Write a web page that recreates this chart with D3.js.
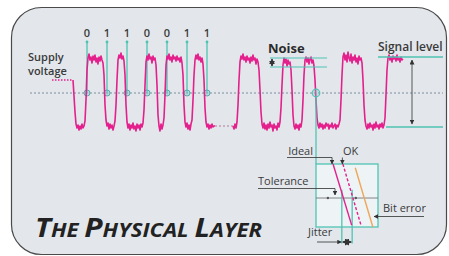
<!DOCTYPE html>
<html>
<head>
<meta charset="utf-8">
<script src="https://cdn.jsdelivr.net/npm/d3@7"></script>
<style>
  body { margin: 0; background: #fff; }
  svg text { font-family: "Open Sans", "Noto Sans", sans-serif; }
</style>
</head>
<body>
<svg id="chart"></svg>
<script>
// bit pattern written above the trace, and the times it is sampled at (ns)
var bits = ["0", "1", "1", "0", "0", "1", "1"];
var bitTimes = [10, 20, 30, 40, 50, 60, 70];

// trace, one sample every 0.5 ns, values in mV
var sampleStep = 0.5;
var trainAStart = 3;
var trainA = [2350, 1550, 750, 150, -50, 100, -150, 50, -100, 150, -50, 50, 300, 1350, 2850,
  3450, 3650, 3350, 3500, 3200, 3550, 3350, 3600, 3250, 3450, 3150, 3500, 3300, 3550, 3350, 3200,
  2600, 1100, 350, 50, 200, -100, 150, -50, 100, -150, 50, 300, 1100, 2350,
  3350, 3600, 3450, 3700, 3400, 3550, 3300, 2600, 1100,
  250, -50, 150, -150, 100, -50, 200, -100, 50, -200, 150, -50, 100, -150, 150, 0, 200, 850, 2100,
  3250, 3550, 3350, 3650, 3400, 3500, 3200, 3550, 3350, 3450, 3100, 2100, 600,
  50, -200, 150, -100, 100, 450, 1600,
  3100, 3550, 3400, 3650, 3350, 3500, 3250, 3600, 3400, 3500, 3300, 3550, 3350, 3450, 3250, 3500, 3200, 2600, 1100,
  250, 0, 200, -100, 100, -150, 150, 350, 1350, 2600,
  3350, 3600, 3400, 3650, 3350, 3500, 3250, 3450, 3150, 2350, 950,
  250, 0, 150, -100, 100, -50, 150, 0, 50, 50];
var trainBStart = 83;
var trainB = [50, -100, 150, -50, 250, 1100, 2350,
  3250, 3550, 3400, 3650, 3350, 3500, 3250, 3550, 3350, 3450, 3200, 3500, 3300, 3600, 3350, 3450, 3150, 3400, 3250, 2850, 1850, 750,
  150, -50, 200, -100, 100, -150, 150, -50, 250, 0, 100, -200, 150, -50, 50, -150, 200, 0, 250, 950, 2100,
  3100, 3450, 3200, 3400, 3050, 3350, 3150, 3250, 2850, 1850, 600,
  50, -100, 150, -50, 100, -150, 150, 0, 350, 1350, 2600,
  3350, 3500, 3250, 3450, 3150, 3400, 3500, 3200, 3350, 3050, 2350, 1350, 450,
  100, -50, 200, 0, 150, -100, 100, -50, 200, 50, 150, -100, 100, 0, 200, -50, 50, 150, -100, 100, 0, 150, 350, 1350, 2600,
  3500, 3700, 3350, 3600, 3250, 3750, 3450, 3300, 3650, 3200, 3500, 3350, 3600, 3250, 3450, 3150, 3550, 3350, 3450, 3200, 2350, 1100,
  350, 50, -100, 150, -50, 200, 0, 100, -150, 150, -50, 250, 0, 100, -100, 150, 0, 200, -50, 100, 450, 1600, 2850,
  3450, 3600, 3350, 3500, 3250, 3550, 3400, 3500, 3300, 3600, 3350, 3450, 3250, 3500, 3350, 3400];

var supplyLevel = 2350;          // level before the first edge (mV)
var supplySpan = [-7.5, 3];
var gapSpan = [74, 83];          // omitted part of the trace
var gapLevel = 50;
var threshold = 1700;            // decision threshold (mV)
var thresholdSpan = [-18.5, 188];
var sampleTime = 124.5;          // the edge blown up in the inset
var noiseBand = [3000, 3450];
var noiseSpan = [101.5, 130];
var signalLevels = [3500, 0];
var signalSpans = [[155.5, 188], [159.5, 188]];

// inset: edge positions in ns relative to the sampling window, level 0..1
var edgeNames = ["Ideal", "OK", "Bit error"];
var edgeTop = [[3.3, 1], [5.2, 1], [7.6, 0.94]];
var edgeBottom = [[6.9, 0.03], [8.7, 0.03], [11, 0]];
var jitterWindow = [5.0, 7.0];
var toleranceWindow = [2.3, 7.7];
var toleranceLevel = 0.46;

var W = 449, H = 256;
var pink = "#e3208c", teal = "#4fc3b3", ink = "#3a3a3a";

var svg = d3.select("#chart").attr("width", W).attr("height", H);

var defs = svg.append("defs");
function marker(id, fill) {
    defs.append("marker")
        .attr("id", id)
        .attr("viewBox", "0 0 10 10")
        .attr("refX", 9).attr("refY", 5)
        .attr("markerWidth", 5).attr("markerHeight", 5)
        .attr("orient", "auto-start-reverse")
        .append("path")
        .attr("d", "M0,0L10,5L0,10z")
        .attr("fill", fill);
}
marker("arr", "#333");

// frame
svg.append("rect")
    .attr("x", 11.5).attr("y", 7.5)
    .attr("width", 435).attr("height", 247)
    .attr("rx", 30).attr("ry", 30)
    .attr("fill", "#e3e7ec")
    .attr("stroke", "#4a4a4a")
    .attr("stroke-width", 1.2);

var x = d3.scaleLinear().domain([0, 170]).range([67, 407]);
var y = d3.scaleLinear().domain([0, 3500]).range([127, 57]);

var line = d3.line()
    .x(function (d) { return x(d[0]); })
    .y(function (d) { return y(d[1]); });

function toPoints(start, values) {
    return values.map(function (v, i) { return [start + i * sampleStep, v]; });
}

// threshold
svg.append("line")
    .attr("x1", x(thresholdSpan[0])).attr("x2", x(thresholdSpan[1]))
    .attr("y1", y(threshold)).attr("y2", y(threshold))
    .attr("stroke", "#7d8e9c")
    .attr("stroke-width", 1)
    .attr("stroke-dasharray", "2,2");

// bit markers
var bitG = svg.append("g");
bitG.selectAll(".bitline")
    .data(bitTimes)
    .enter().append("line")
    .attr("x1", function (d) { return x(d); })
    .attr("x2", function (d) { return x(d); })
    .attr("y1", 41)
    .attr("y2", y(threshold))
    .attr("stroke", teal)
    .attr("stroke-width", 1.3);
bitG.selectAll(".bittop")
    .data(bitTimes)
    .enter().append("circle")
    .attr("cx", function (d) { return x(d); })
    .attr("cy", 42)
    .attr("r", 1.4)
    .attr("fill", teal);
bitG.selectAll("text")
    .data(bits)
    .enter().append("text")
    .attr("x", function (d, i) { return x(bitTimes[i]); })
    .attr("y", 37)
    .attr("text-anchor", "middle")
    .attr("font-size", "11px")
    .attr("font-weight", 600)
    .attr("fill", ink)
    .text(function (d) { return d; });

// dotted bits of the trace
svg.append("path")
    .attr("d", line([[supplySpan[0], supplyLevel], [supplySpan[1], supplyLevel]]))
    .attr("stroke", pink).attr("stroke-width", 1.3)
    .attr("stroke-dasharray", "1.5,1.5").attr("fill", "none");
svg.append("path")
    .attr("d", line([[gapSpan[0], gapLevel], [gapSpan[1], gapLevel]]))
    .attr("stroke", "#b07a9c").attr("stroke-width", 1.2)
    .attr("stroke-dasharray", "2,2").attr("fill", "none");

// trace
[toPoints(trainAStart, trainA), toPoints(trainBStart, trainB)].forEach(function (pts) {
    svg.append("path")
        .attr("d", line(pts))
        .attr("fill", "none")
        .attr("stroke", pink)
        .attr("stroke-width", 1.6)
        .attr("stroke-linejoin", "round");
});

// sampling circles on the threshold
bitG.selectAll(".samp")
    .data(bitTimes)
    .enter().append("circle")
    .attr("cx", function (d) { return x(d); })
    .attr("cy", y(threshold))
    .attr("r", 3)
    .attr("fill", "rgba(120,200,195,0.45)")
    .attr("stroke", "#5aa9b0")
    .attr("stroke-width", 1);

// noise band
svg.selectAll(".noise")
    .data(noiseBand)
    .enter().append("line")
    .attr("x1", x(noiseSpan[0])).attr("x2", x(noiseSpan[1]))
    .attr("y1", function (d) { return y(d); })
    .attr("y2", function (d) { return y(d); })
    .attr("stroke", teal).attr("stroke-width", 1.2);
svg.append("line")
    .attr("x1", x(noiseSpan[0]) + 2).attr("x2", x(noiseSpan[0]) + 2)
    .attr("y1", y(noiseBand[1]) + 1).attr("y2", y(noiseBand[0]) - 1)
    .attr("stroke", "#222").attr("stroke-width", 1.2)
    .attr("marker-start", "url(#arr)").attr("marker-end", "url(#arr)");
svg.append("text")
    .attr("x", 268).attr("y", 53)
    .attr("font-size", "13px").attr("font-weight", 700)
    .attr("fill", "#2a2a2a")
    .text("Noise");

// signal level
svg.selectAll(".lvl")
    .data(signalLevels)
    .enter().append("line")
    .attr("x1", function (d, i) { return x(signalSpans[i][0]); })
    .attr("x2", function (d, i) { return x(signalSpans[i][1]); })
    .attr("y1", function (d) { return y(d); })
    .attr("y2", function (d) { return y(d); })
    .attr("stroke", teal).attr("stroke-width", 1.3);
svg.append("line")
    .attr("x1", x(172.5)).attr("x2", x(172.5))
    .attr("y1", y(signalLevels[0]) + 3).attr("y2", y(signalLevels[1]) - 3)
    .attr("stroke", "#555").attr("stroke-width", 1)
    .attr("marker-start", "url(#arr)").attr("marker-end", "url(#arr)");
svg.append("text")
    .attr("x", 378).attr("y", 51)
    .attr("font-size", "12px").attr("font-weight", 600)
    .attr("fill", ink)
    .text("Signal level");

// supply voltage label
svg.append("text")
    .attr("x", 28).attr("y", 61)
    .attr("font-size", "11px").attr("font-weight", 600).attr("fill", ink)
    .text("Supply");
svg.append("text")
    .attr("x", 28).attr("y", 75)
    .attr("font-size", "11px").attr("font-weight", 600).attr("fill", ink)
    .text("voltage");

// sample point and inset
var ix = d3.scaleLinear().domain([0, 12]).range([x(sampleTime), 378]);
var iy = d3.scaleLinear().domain([0, 1]).range([227, 164]);

svg.append("circle")
    .attr("cx", x(sampleTime)).attr("cy", y(threshold))
    .attr("r", 3.8)
    .attr("fill", "rgba(120,200,195,0.35)")
    .attr("stroke", teal).attr("stroke-width", 1.2);
svg.append("line")
    .attr("x1", x(sampleTime)).attr("x2", x(sampleTime))
    .attr("y1", y(threshold) + 4).attr("y2", iy(1))
    .attr("stroke", teal).attr("stroke-width", 1.3);

svg.append("rect")
    .attr("x", ix(0)).attr("y", iy(1))
    .attr("width", ix(12) - ix(0)).attr("height", iy(0) - iy(1))
    .attr("fill", "#eef3f5")
    .attr("stroke", teal).attr("stroke-width", 1.3);

// tolerance line
svg.append("line")
    .attr("x1", ix(0)).attr("x2", ix(12))
    .attr("y1", iy(toleranceLevel)).attr("y2", iy(toleranceLevel))
    .attr("stroke", "#6a6a6a").attr("stroke-width", 0.8);
svg.selectAll(".tol")
    .data(toleranceWindow)
    .enter().append("circle")
    .attr("cx", function (d) { return ix(d); })
    .attr("cy", iy(toleranceLevel))
    .attr("r", 1.2).attr("fill", "#555");

// jitter window
svg.selectAll(".jit")
    .data(jitterWindow)
    .enter().append("line")
    .attr("x1", function (d) { return ix(d); })
    .attr("x2", function (d) { return ix(d); })
    .attr("y1", iy(0.59)).attr("y2", iy(-0.26))
    .attr("stroke", teal).attr("stroke-width", 1.3);

// edges
var edgeStyle = [
    {stroke: pink, dash: null},
    {stroke: pink, dash: "3,2"},
    {stroke: "#f0a65a", dash: null}
];
edgeNames.forEach(function (name, i) {
    svg.append("line")
        .attr("x1", ix(edgeTop[i][0])).attr("y1", iy(edgeTop[i][1]))
        .attr("x2", ix(edgeBottom[i][0])).attr("y2", iy(edgeBottom[i][1]))
        .attr("stroke", edgeStyle[i].stroke)
        .attr("stroke-width", 1.4)
        .attr("stroke-dasharray", edgeStyle[i].dash);
});

// inset labels with leaders
function label(txt, tx, ty, anchor) {
    svg.append("text")
        .attr("x", tx).attr("y", ty)
        .attr("text-anchor", anchor || "start")
        .attr("font-size", "11px").attr("font-weight", 500)
        .attr("fill", ink)
        .text(txt);
}
function leader(pts, arrow) {
    svg.append("path")
        .attr("d", d3.line()(pts))
        .attr("fill", "none")
        .attr("stroke", "#444").attr("stroke-width", 0.9)
        .attr("marker-end", arrow ? "url(#arr)" : null);
}

label("Ideal", 313, 155, "end");
leader([[287, 157.5], [ix(edgeTop[0][0]) - 1, 157.5], [ix(edgeTop[0][0]) - 1, 164]], true);
label("OK", 343, 155);
leader([[ix(edgeTop[1][0]) - 0.5, 157.5], [ix(edgeTop[1][0]) - 0.5, 164]], true);
label("Tolerance", 258, 185);
leader([[258, 188.5], [335, 188.5], [335, 195]], true);
label("Bit error", 383, 212);
leader([[424, 216.5], [374, 216.5]], true);
label("Jitter", 308, 236);
leader([[317, 242], [ix(jitterWindow[0]) - 0.5, 242]], true);
svg.append("line")
    .attr("x1", ix(jitterWindow[0]) + 1).attr("x2", ix(jitterWindow[1]) - 1)
    .attr("y1", 242).attr("y2", 242)
    .attr("stroke", "#222").attr("stroke-width", 1.4)
    .attr("marker-start", "url(#arr)").attr("marker-end", "url(#arr)");

// title in small caps
var title = svg.append("text")
    .attr("x", 35).attr("y", 237)
    .attr("font-style", "italic")
    .attr("font-weight", 700)
    .attr("fill", "#222")
    .attr("textLength", 227)
    .attr("lengthAdjust", "spacingAndGlyphs");
[["T", 27], ["HE ", 20], ["P", 27], ["HYSICAL ", 20], ["L", 27], ["AYER", 20]].forEach(function (p) {
    title.append("tspan").attr("font-size", p[1] + "px").text(p[0]);
});
</script>
</body>
</html>
